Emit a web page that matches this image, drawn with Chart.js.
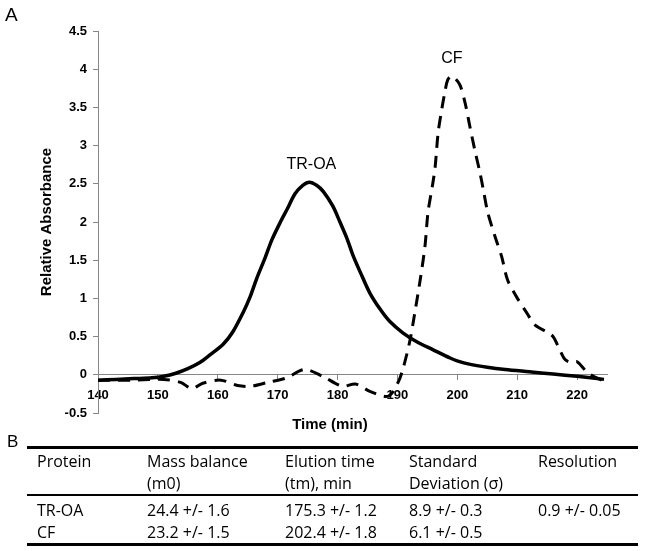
<!DOCTYPE html>
<html>
<head>
<meta charset="utf-8">
<script src="https://cdn.jsdelivr.net/npm/chart.js@4.4.1/dist/chart.umd.min.js"></script>
<style>
  body { margin: 0; background: #fff; }
  #wrap { position: relative; width: 645px; height: 551px; overflow: hidden; }
  #absChart { position: absolute; left: 0; top: 0; }
  .panel { position: absolute; font-family: "Liberation Sans", Arial, sans-serif; color: #000; }
  #tbl { position: absolute; left: 27px; top: 446px; width: 611px; table-layout: fixed;
         border-collapse: separate; border-spacing: 0; font-family: "Open Sans", sans-serif; font-size: 16px; color: #000; }
  #tbl th, #tbl td { padding: 0; text-align: left; font-weight: normal; white-space: nowrap; line-height: 22px; }
  #tbl th { border-top: 3px solid #000; border-bottom: 2px solid #000; padding-top: 1px; vertical-align: top; }
  #tbl tbody tr:first-child td { padding-top: 3px; }
  #tbl tbody tr:last-child td { border-bottom: 3px solid #000; }
  #tbl th:first-child, #tbl td:first-child { padding-left: 10px; }
</style>
</head>
<body>
<div id="wrap">
  <canvas id="absChart" width="645" height="551"></canvas>
  <div class="panel" style="left:5px; top:5px; font-size:19px; line-height:19px;">A</div>
  <div class="panel" style="left:7px; top:433px; font-size:17px; line-height:17px;">B</div>
  <table id="tbl">
    <colgroup><col style="width:120px"><col style="width:138px"><col style="width:124px"><col style="width:129px"><col style="width:100px"></colgroup>
    <thead><tr id="headRow"></tr></thead>
    <tbody id="bodyRows"></tbody>
  </table>
</div>
<script>
// elution traces
const trTimes = [140, 143, 146, 149, 151, 153, 155, 157, 158.7, 160.9, 162.5, 164.2, 165.4, 166.5, 167.9, 169, 170.4, 171.6, 172.9, 174.2, 175.3, 176.5, 177.6, 179.2, 180.4, 181.6, 182.6, 184.1, 185.4, 187.1, 188.7, 190.9, 193.3, 195.9, 198.8, 200.1, 202, 205, 208, 212, 216, 220, 224.5];
const trAbs = [-0.07, -0.06, -0.05, -0.04, -0.02, 0.02, 0.08, 0.16, 0.26, 0.40, 0.56, 0.81, 1.02, 1.26, 1.53, 1.76, 1.99, 2.17, 2.37, 2.48, 2.52, 2.48, 2.40, 2.21, 2.00, 1.78, 1.56, 1.29, 1.07, 0.86, 0.70, 0.55, 0.43, 0.33, 0.22, 0.18, 0.14, 0.10, 0.07, 0.04, 0.01, -0.02, -0.06];

const cfTimes = [140, 146, 151, 153.8, 155.7, 157.5, 160.5, 163.3, 165.5, 168.3, 171.5, 174.5, 177.5, 180.8, 183, 185.5, 188.5, 190.1, 190.9, 192.1, 192.9, 193.8, 194.6, 195.1, 195.9, 196.3, 196.8, 197.4, 197.9, 198.4, 199.1, 200.4, 201.3, 202.1, 202.9, 203.8, 204.4, 205.1, 206.3, 207.4, 208.4, 209.9, 211.6, 213, 215, 216, 217.1, 218, 219.1, 220, 221.6, 223, 224.1];
const cfAbs = [-0.07, -0.07, -0.06, -0.10, -0.18, -0.11, -0.07, -0.14, -0.15, -0.10, -0.04, 0.07, -0.02, -0.15, -0.12, -0.22, -0.28, -0.10, 0.07, 0.45, 0.81, 1.24, 1.68, 2.12, 2.50, 2.72, 3.17, 3.47, 3.69, 3.86, 3.91, 3.80, 3.56, 3.25, 2.95, 2.64, 2.40, 2.12, 1.81, 1.55, 1.24, 1.02, 0.81, 0.65, 0.56, 0.50, 0.33, 0.20, 0.16, 0.17, 0.04, -0.03, -0.07];

const timeTicks = [140, 150, 160, 170, 180, 190, 200, 210, 220];
const absTicks = [-0.5, 0, 0.5, 1, 1.5, 2, 2.5, 3, 3.5, 4, 4.5];

const peakNames = ['TR-OA', 'CF'];
const peakTimes = [175.3, 199.1];
const peakHeights = [2.52, 3.91];

// table B
const headers = ['Protein', 'Mass balance<br>(m0)', 'Elution time<br>(tm), min', 'Standard<br>Deviation (σ)', 'Resolution'];
const proteins = ['TR-OA', 'CF'];
const massBalance = ['24.4 +/- 1.6', '23.2 +/- 1.5'];
const elution = ['175.3 +/- 1.2', '202.4 +/- 1.8'];
const stdDev = ['8.9 +/- 0.3', '6.1 +/- 0.5'];
const resolution = ['0.9 +/- 0.05', ''];

document.getElementById('headRow').innerHTML = headers.map(h => '<th>' + h + '</th>').join('');
document.getElementById('bodyRows').innerHTML = proteins.map((p, i) =>
  '<tr>' + [p, massBalance[i], elution[i], stdDev[i], resolution[i]].map(c => '<td>' + c + '</td>').join('') + '</tr>'
).join('');

const FONT = '"Liberation Sans", Arial, sans-serif';
const AXIS = '#868686';
const toPoints = (xs, ys) => xs.map((x, i) => ({ x: x, y: ys[i] }));

const labelPlugin = {
  id: 'labels',
  afterDatasetsDraw(chart) {
    const { ctx, scales } = chart;
    ctx.save();
    ctx.fillStyle = '#000';
    ctx.textAlign = 'center';
    ctx.textBaseline = 'alphabetic';
    ctx.font = '16px ' + FONT;
    peakNames.forEach((name, i) => {
      const x = scales.x.getPixelForValue(peakTimes[i]);
      const y = scales.y.getPixelForValue(peakHeights[i]) - 13;
      ctx.fillText(name, x + (i === 0 ? 2 : 0), y);
    });
    ctx.font = 'bold 15px ' + FONT;
    ctx.fillText('Time (min)', 330, 429);
    ctx.restore();
  }
};

new Chart(document.getElementById('absChart').getContext('2d'), {
  type: 'scatter',
  data: {
    datasets: [{
      label: 'TR-OA',
      data: toPoints(trTimes, trAbs),
      showLine: true,
      borderColor: '#000',
      borderWidth: 3.5,
      pointRadius: 0,
      tension: 0.3
    }, {
      label: 'CF',
      data: toPoints(cfTimes, cfAbs),
      showLine: true,
      borderColor: '#000',
      borderWidth: 3,
      borderDash: [12, 8],
      pointRadius: 0,
      tension: 0.3
    }]
  },
  options: {
    responsive: false,
    animation: false,
    layout: { padding: { left: 0, right: 38, top: 31, bottom: 138 } },
    plugins: { legend: { display: false }, tooltip: { enabled: false } },
    scales: {
      x: {
        type: 'linear',
        position: { y: 0 },
        min: 140,
        max: 225,
        afterBuildTicks: s => { s.ticks = timeTicks.map(v => ({ value: v })); },
        grid: { drawOnChartArea: false, tickLength: 5, color: AXIS },
        border: { color: AXIS },
        ticks: { font: { family: FONT, size: 13, weight: 'bold' }, color: '#000', padding: 8, maxRotation: 0 }
      },
      y: {
        min: -0.5,
        max: 4.5,
        afterBuildTicks: s => { s.ticks = absTicks.map(v => ({ value: v })); },
        afterFit: s => { s.width = 98; },
        grid: { drawOnChartArea: false, tickLength: 5, color: AXIS },
        border: { color: AXIS },
        ticks: { font: { family: FONT, size: 13, weight: 'bold' }, color: '#000', padding: 6, callback: v => String(v) },
        title: { display: true, text: 'Relative Absorbance', color: '#000',
                 font: { family: FONT, size: 15, weight: 'bold' }, padding: { top: 38, bottom: 0 } }
      }
    }
  },
  plugins: [labelPlugin]
});
</script>
</body>
</html>
